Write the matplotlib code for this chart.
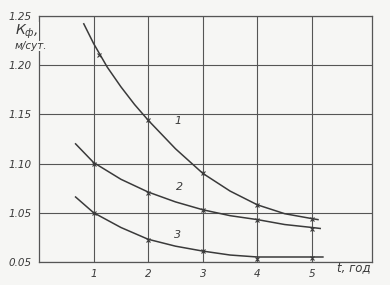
import matplotlib
matplotlib.use("Agg")
import matplotlib.pyplot as plt

# curve data (t, years -> K_f, m/day)
t1 = [0.82, 1.0, 1.25, 1.5, 1.75, 2.0, 2.5, 3.0, 3.5, 4.0, 4.5, 5.0, 5.11]
k1 = [1.242, 1.222, 1.198, 1.178, 1.160, 1.144, 1.115, 1.090, 1.072, 1.058, 1.049, 1.044, 1.043]
t2 = [0.67, 1.0, 1.5, 2.0, 2.5, 3.0, 3.5, 4.0, 4.5, 5.0, 5.15]
k2 = [1.120, 1.101, 1.084, 1.071, 1.061, 1.053, 1.047, 1.043, 1.038, 1.035, 1.034]
t3 = [0.67, 1.0, 1.5, 2.0, 2.5, 3.0, 3.5, 4.0, 4.5, 5.0, 5.2]
k3 = [1.066, 1.050, 1.035, 1.023, 1.016, 1.011, 1.007, 1.005, 1.005, 1.005, 1.005]

# marked points
mt1 = [1.1, 2, 3, 4, 5]
m1 = [1.210, 1.144, 1.090, 1.058, 1.044]
mt = [1, 2, 3, 4, 5]
m2 = [1.100, 1.070, 1.053, 1.043, 1.033]
m3 = [1.050, 1.022, 1.011, 1.003, 1.004]

xticks = [1, 2, 3, 4, 5]
xlabels = ["1", "2", "3", "4", "5"]
yticks = [1.00, 1.05, 1.10, 1.15, 1.20, 1.25]
ylabels = ["0.05", "1.05", "1.10", "1.15", "1.20", "1.25"]

curve_labels = ["1", "2", "3"]
label_pos_t = [2.55, 2.58, 2.53]
label_pos_k = [1.143, 1.076, 1.027]

bg = "#f6f6f4"
ink = "#3a3a3a"

fig = plt.figure(figsize=(3.9, 2.85), dpi=100, facecolor=bg)
ax = fig.add_axes([0.1, 0.081, 0.854, 0.863], facecolor=bg)
ax.set_xlim(0, 6.1)
ax.set_ylim(1.0, 1.25)

ax.set_xticks(xticks)
ax.set_xticklabels(xlabels)
ax.set_yticks(yticks)
ax.set_yticklabels(ylabels)
ax.tick_params(length=0, labelsize=7.5, colors=ink, pad=5)
for lab in ax.get_xticklabels() + ax.get_yticklabels():
    lab.set_fontstyle("italic")
ax.grid(True, color="#555555", linewidth=0.8)
ax.set_axisbelow(True)
for s in ax.spines.values():
    s.set_color("#555555")
    s.set_linewidth(0.9)

for t, k in [(t1, k1), (t2, k2), (t3, k3)]:
    ax.plot(t, k, color=ink, linewidth=1.1, zorder=3, solid_joinstyle="round")
for tt, m in [(mt1, m1), (mt, m2), (mt, m3)]:
    ax.plot(tt, m, linestyle="none", marker="x", markersize=3, color=ink,
            markeredgewidth=0.8, zorder=4)

for lab, x, y in zip(curve_labels, label_pos_t, label_pos_k):
    ax.text(x, y, lab, fontsize=8, fontstyle="italic", color=ink,
            ha="center", va="center")

fig.text(0.865, 0.06, "t, год", fontsize=8.5, color=ink, style="italic",
         ha="left", va="center")
ax.text(-0.44, 1.234, "К$_ф$,", fontsize=10, style="italic", color=ink,
        ha="left", va="center",
        bbox=dict(facecolor=bg, edgecolor="none", pad=0.3), zorder=5)
ax.text(-0.44, 1.2195, "м/сут.", fontsize=7.5, style="italic", color=ink,
        ha="left", va="center",
        bbox=dict(facecolor=bg, edgecolor="none", pad=0.3), zorder=5)

fig.savefig("out.png", dpi=100, facecolor=bg)
